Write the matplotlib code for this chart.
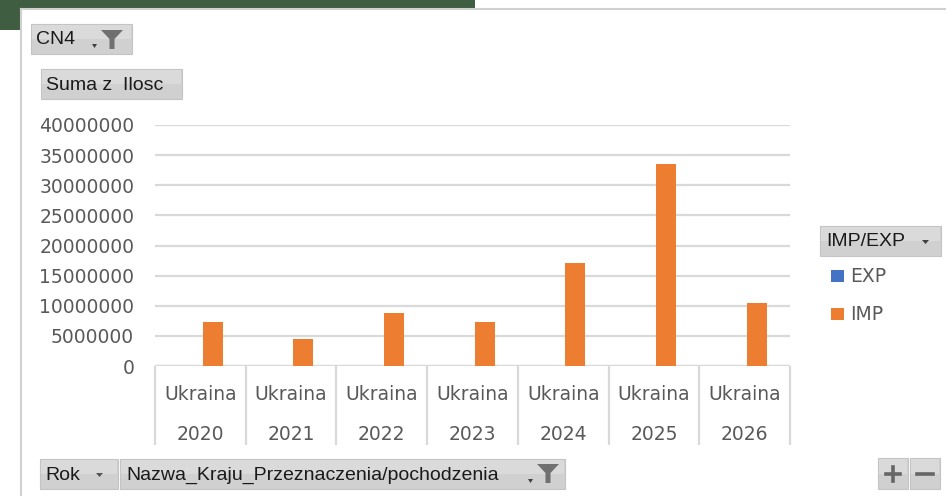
import matplotlib
matplotlib.use("Agg")
import matplotlib.pyplot as plt
from matplotlib.patches import Rectangle, Polygon

# dane
lata = ["2020", "2021", "2022", "2023", "2024", "2025", "2026"]
kraj = ["Ukraina"] * 7
imp = [7260000, 4540000, 8750000, 7260000, 17100000, 33500000, 10400000]
exp_ = [0, 0, 0, 0, 0, 0, 0]
yticks = [0, 5000000, 10000000, 15000000, 20000000, 25000000, 30000000, 35000000, 40000000]

W, H = 946, 496
BLUE = "#4472C4"
ORANGE = "#ED7D31"
GRID = "#d9d9d9"
TXT = "#595959"

fig = plt.figure(figsize=(W / 100, H / 100), dpi=100)
fig.patch.set_facecolor("white")


def fx(x):
    return x / W


def fy(y):
    return 1 - y / H


def box(x0, y0, x1, y1, fc="#d3d3d3", ec="#c4c4c4"):
    fig.patches.append(Rectangle((fx(x0), fy(y1)), fx(x1) - fx(x0), fy(y0) - fy(y1),
                                 transform=fig.transFigure, facecolor=fc, edgecolor=ec,
                                 linewidth=0.8, zorder=1))


def button(x0, y0, x1, y1):
    # lekki gradient jak w Excelu
    box(x0, y0, x1, y1, fc="#d0d0d0", ec="#c4c4c4")
    box(x0 + 1, y0 + 1, x1 - 1, (y0 + y1) / 2, fc="#dadada", ec="none")


def poly(pts, color):
    fig.patches.append(Polygon([(fx(x), fy(y)) for x, y in pts], closed=True,
                               transform=fig.transFigure, facecolor=color,
                               edgecolor="none", zorder=2))


def line(x0, y0, x1, y1, c, lw):
    fig.add_artist(plt.Line2D([fx(x0), fx(x1)], [fy(y0), fy(y1)], color=c, lw=lw,
                              transform=fig.transFigure))


def funnel(x, y):
    # lejek filtra (x,y = lewy gorny rog)
    poly([(x, y), (x + 22, y), (x + 13.5, y + 9), (x + 13.5, y + 19), (x + 8.5, y + 19), (x + 8.5, y + 9)], "#707070")


def arrow(x, y, w=6, c="#404040"):
    poly([(x, y), (x + w, y), (x + w / 2, y + 4)], c)


# tlo okna: zielony pasek u gory i ramka karty
box(0, 0, 475, 9, fc="#3e5d41", ec="none")
box(0, 9, 21, 30, fc="#3e5d41", ec="none")
line(21, 9, 21, H, "#d0d0d0", 1.5)
line(21, 9, W, 9, "#d0d0d0", 1.5)

# przyciski pola tabeli przestawnej
bfont = dict(family="Liberation Sans", fontsize=14, color="#1a1a1a", va="center")
button(31, 24, 132, 54)
fig.text(fx(36), fy(40), "CN4", **bfont)
arrow(92, 44, 5)
funnel(101, 30)

button(41, 69, 182, 99)
fig.text(fx(46), fy(85), "Suma z  Ilosc", **bfont)

button(820, 226, 941, 256)
fig.text(fx(826), fy(242), "IMP/EXP", **bfont)
arrow(922, 240, 7)

button(40, 459, 118, 489)
fig.text(fx(45), fy(475), "Rok", **bfont)
arrow(96, 473, 7, "#555555")

button(120, 459, 565, 489)
fig.text(fx(126), fy(475), "Nazwa_Kraju_Przeznaczenia/pochodzenia", **bfont)
arrow(528, 479, 5)
funnel(537, 464)

button(878, 458, 908, 489)
button(910, 458, 940, 489)
line(886, 474, 900, 474, "#666666", 2.6)
line(893, 467, 893, 481, "#666666", 2.6)
line(917, 474, 933, 474, "#666666", 2.6)

# legenda
fig.patches.append(Rectangle((fx(831), fy(282)), fx(13), 12 / H, transform=fig.transFigure,
                             facecolor=BLUE, edgecolor="none"))
fig.patches.append(Rectangle((fx(831), fy(320)), fx(13), 12 / H, transform=fig.transFigure,
                             facecolor=ORANGE, edgecolor="none"))
fig.text(fx(850), fy(276), "EXP", fontsize=13.5, color=TXT, va="center")
fig.text(fx(850), fy(314), "IMP", fontsize=13.5, color=TXT, va="center")

# wykres
ax = fig.add_axes([fx(155), fy(366), fx(790) - fx(155), (366 - 125) / H])
ax.set_facecolor("none")
x = list(range(len(lata)))
bw = 0.22
ax.bar([i - 0.135 for i in x], exp_, width=bw, color=BLUE, zorder=3)
ax.bar([i + 0.135 for i in x], imp, width=bw, color=ORANGE, zorder=3)
ax.set_xlim(-0.5, len(lata) - 0.5)
ax.set_ylim(0, 40000000)
ax.set_yticks(yticks)
ax.set_yticklabels([str(v) for v in yticks], fontsize=13.5, color=TXT)
ax.tick_params(axis="y", length=0, pad=15)
ax.set_xticks([])
ax.grid(axis="y", color=GRID, linewidth=1.6, zorder=0)
for s in ax.spines.values():
    s.set_visible(False)

tr = ax.get_xaxis_transform()
ax.axhline(0, color=GRID, lw=1.6, zorder=2)
ax.vlines([i - 0.5 for i in range(len(lata) + 1)], 0, -79 / 241, colors=GRID, lw=1.6,
          transform=tr, clip_on=False)
for i in x:
    ax.text(i, -28 / 241, kraj[i], transform=tr, ha="center", va="center", fontsize=13.5,
            color=TXT)
    ax.text(i, -68 / 241, lata[i], transform=tr, ha="center", va="center", fontsize=13.5,
            color=TXT)

fig.savefig("out.png", dpi=100)
